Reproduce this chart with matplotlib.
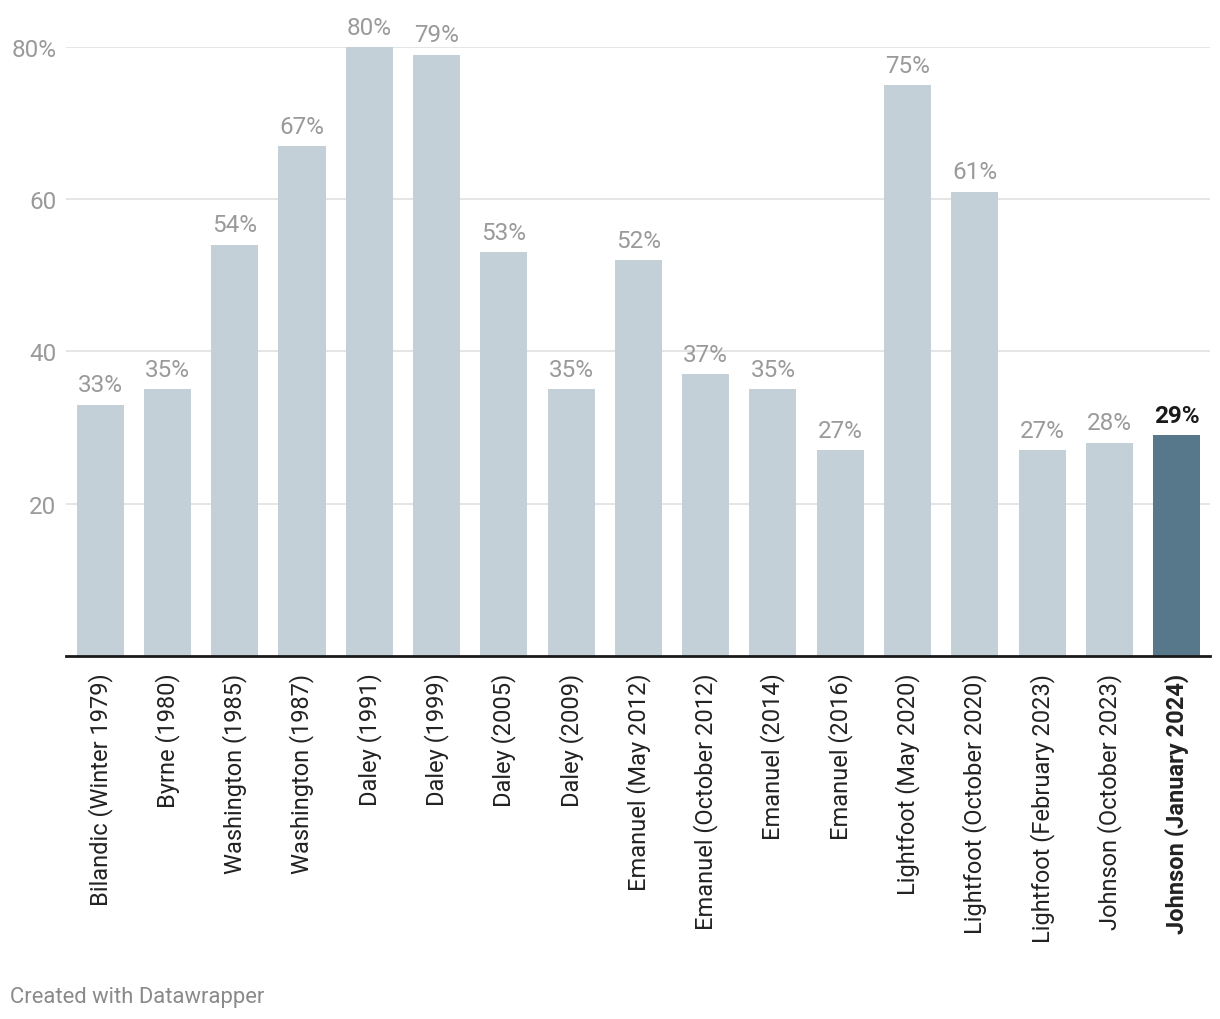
import matplotlib.pyplot as plt

plt.rcParams["font.family"] = ["Roboto", "DejaVu Sans"]

LABELS = ["Bilandic (Winter 1979)", "Byrne (1980)", "Washington (1985)",
          "Washington (1987)", "Daley (1991)", "Daley (1999)", "Daley (2005)",
          "Daley (2009)", "Emanuel (May 2012)", "Emanuel (October 2012)",
          "Emanuel (2014)", "Emanuel (2016)", "Lightfoot (May 2020)",
          "Lightfoot (October 2020)", "Lightfoot (February 2023)",
          "Johnson (October 2023)", "Johnson (January 2024)"]
VALUES = [33, 35, 54, 67, 80, 79, 53, 35, 52, 37, 35, 27, 75, 61, 27, 28, 29]
HIGHLIGHT = 16
YTICKS = [20, 40, 60, 80]
YTICK_LABELS = ["20", "40", "60", "80%"]

BAR_COLOR = "#c3d0d7"
HL_COLOR = "#57788a"
GREY = "#9a9a9a"

fig = plt.figure(figsize=(12.2, 10.2), dpi=100)
ax = fig.add_axes([0.054, 0.356, 0.938, 0.597])

x = list(range(len(VALUES)))
colors = [HL_COLOR if i == HIGHLIGHT else BAR_COLOR for i in x]
ax.bar(x, VALUES, width=0.70, color=colors, zorder=2)

for i, v in enumerate(VALUES):
    hl = i == HIGHLIGHT
    ax.text(i, v + 1.1, f"{v}%", ha="center", va="bottom",
            fontsize=17.5, color="#1a1a1a" if hl else GREY,
            fontweight="bold" if hl else "normal", clip_on=False)

ax.set_xlim(-0.51, 16.5)
ax.set_ylim(0, 80)
ax.set_yticks(YTICKS)
ax.set_yticklabels(YTICK_LABELS, fontsize=17.5, color=GREY)
ax.yaxis.grid(True, color="#e3e3e3", linewidth=1.3, zorder=0)
ax.tick_params(axis="y", length=0, pad=7)

ax.set_xticks(x)
ax.set_xticklabels(LABELS, rotation=90, fontsize=17, color="#222222")
for i, lbl in enumerate(ax.get_xticklabels()):
    if i == HIGHLIGHT:
        lbl.set_fontweight("bold")
ax.tick_params(axis="x", length=0, pad=12)

for s in ["top", "right", "left"]:
    ax.spines[s].set_visible(False)
ax.spines["bottom"].set_color("#1a1a1a")
ax.spines["bottom"].set_linewidth(2)
ax.spines["bottom"].set_zorder(3)

fig.text(0.008, 0.022, "Created with Datawrapper", fontsize=15.8,
         color="#8a8a8a", ha="left", va="center")

fig.savefig("out.png", dpi=100)
